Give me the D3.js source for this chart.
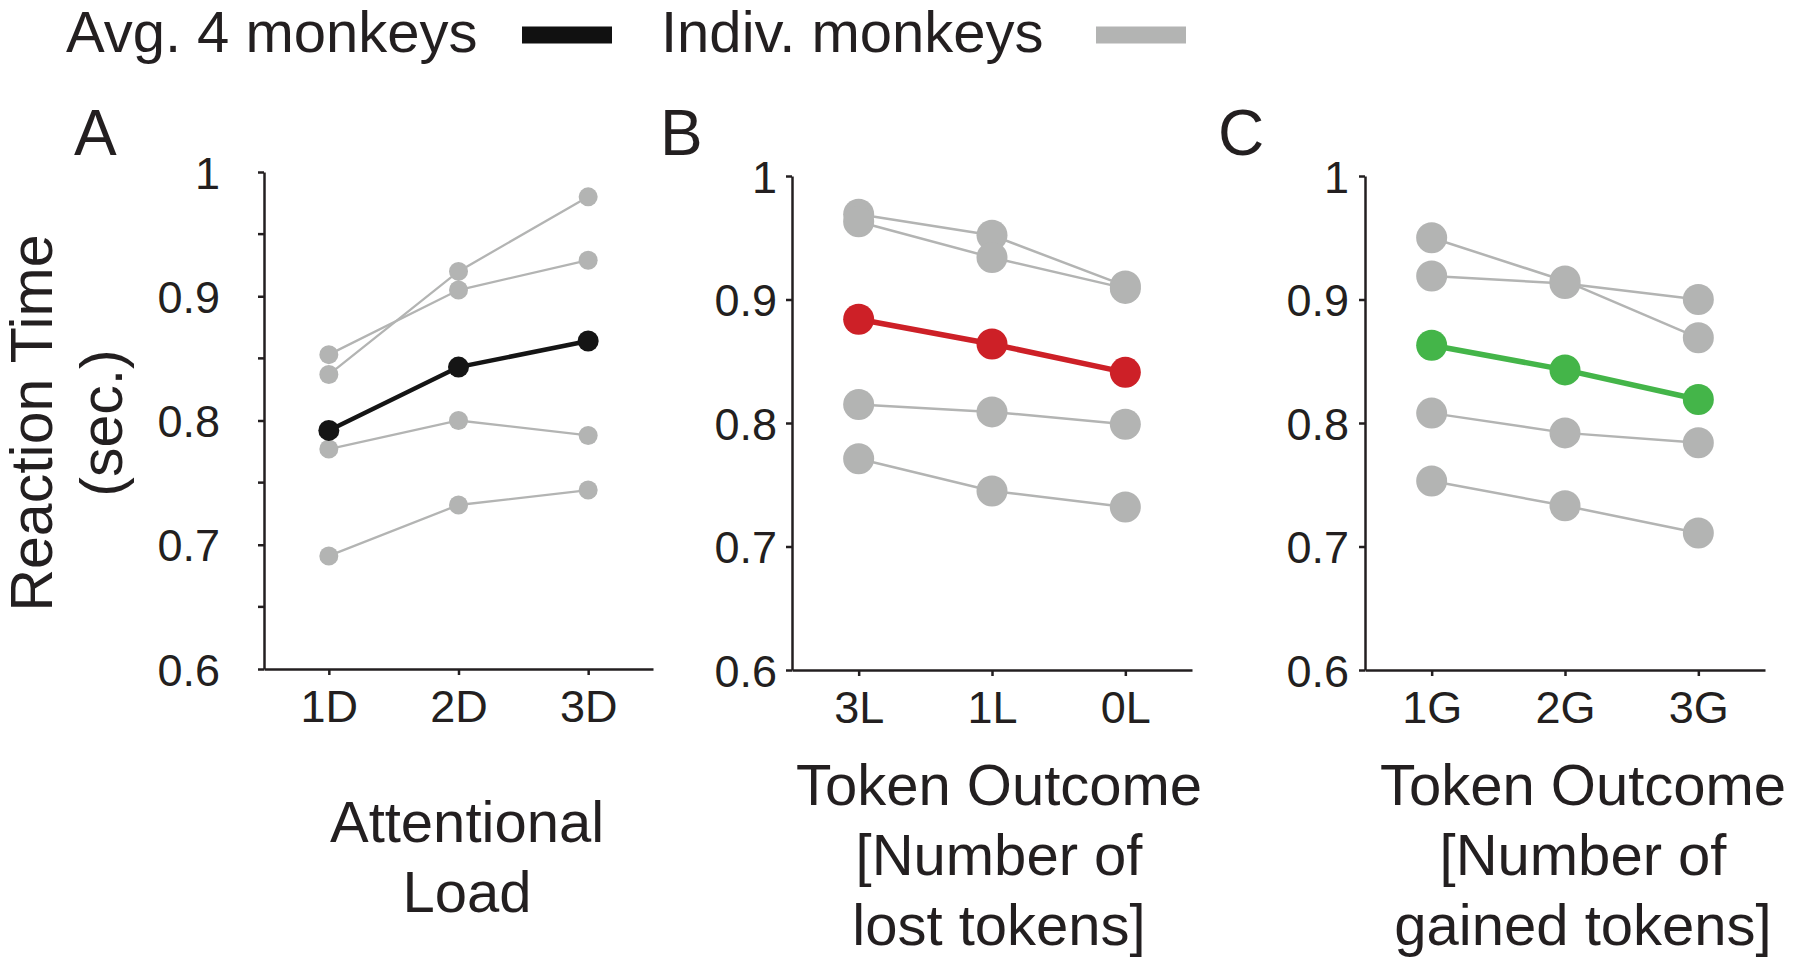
<!DOCTYPE html>
<html>
<head>
<meta charset="utf-8">
<script src="https://cdn.jsdelivr.net/npm/d3@7"></script>
<style>
  body { margin: 0; background: #fff; }
  svg { display: block; font-family: "Liberation Sans", Arial, sans-serif; }
  .axis path, .axis line { stroke: #231f20; stroke-width: 2.5; }
  .axis text { fill: #231f20; font-size: 45px; }
</style>
</head>
<body>
<script>
const width = 1800;
const height = 968;

// Reaction time values
const loadCategories = ["1D", "2D", "3D"];
const loadAvg = [0.792, 0.843, 0.864];
const loadIndiv = [
    [0.837, 0.920, 0.980],
    [0.853, 0.905, 0.929],
    [0.777, 0.800, 0.788],
    [0.691, 0.732, 0.744]
];

const lossCategories = ["3L", "1L", "0L"];
const lossAvg = [0.884, 0.864, 0.841];
const lossIndiv = [
    [0.969, 0.952, 0.911],
    [0.963, 0.934, 0.909],
    [0.815, 0.809, 0.799],
    [0.771, 0.745, 0.732]
];

const gainCategories = ["1G", "2G", "3G"];
const gainAvg = [0.863, 0.843, 0.819];
const gainIndiv = [
    [0.950, 0.915, 0.869],
    [0.919, 0.913, 0.900],
    [0.808, 0.792, 0.784],
    [0.753, 0.733, 0.711]
];

const yTicks = [0.6, 0.7, 0.8, 0.9, 1];
const yMinorTicks = [0.65, 0.75, 0.85, 0.95];

const gray = "#b3b4b3";
const textColor = "#231f20";

const svg = d3.select("body")
    .append("svg")
    .attr("width", width)
    .attr("height", height);

// legend along the top
const legend = svg.append("g").attr("font-size", 58).attr("fill", textColor);
legend.append("text").attr("x", 66).attr("y", 52).text("Avg. 4 monkeys");
legend.append("line")
    .attr("x1", 522).attr("x2", 612).attr("y1", 35).attr("y2", 35)
    .attr("stroke", "#111").attr("stroke-width", 17);
legend.append("text").attr("x", 661).attr("y", 52).text("Indiv. monkeys");
legend.append("line")
    .attr("x1", 1096).attr("x2", 1186).attr("y1", 35).attr("y2", 35)
    .attr("stroke", gray).attr("stroke-width", 17);

const panels = [
    {
        letter: "A", letterX: 74, cats: loadCategories, avg: loadAvg, indiv: loadIndiv,
        x0: 264, x1: 653, top: 172, bottom: 669, labelPad: 38, minor: true,
        color: "#151515", avgR: 10.5, grayR: 9.5, avgW: 4.5, grayW: 2.3,
        title: ["Attentional", "Load"], titleX: 467, titleY: 842
    },
    {
        letter: "B", letterX: 660, cats: lossCategories, avg: lossAvg, indiv: lossIndiv,
        x0: 792, x1: 1192, top: 176, bottom: 670, labelPad: 9, minor: false,
        color: "#cd2027", avgR: 15.5, grayR: 15.5, avgW: 5.5, grayW: 2.5,
        title: ["Token Outcome", "[Number of", "lost tokens]"], titleX: 999, titleY: 805
    },
    {
        letter: "C", letterX: 1218, cats: gainCategories, avg: gainAvg, indiv: gainIndiv,
        x0: 1365, x1: 1765, top: 176, bottom: 670, labelPad: 10, minor: false,
        color: "#44b549", avgR: 15.5, grayR: 15.5, avgW: 5.5, grayW: 2.5,
        title: ["Token Outcome", "[Number of", "gained tokens]"], titleX: 1583, titleY: 805
    }
];

panels.forEach(p => {
    const x = d3.scalePoint().domain(p.cats).range([p.x0, p.x1]).padding(0.5);
    const y = d3.scaleLinear().domain([0.6, 1]).range([p.bottom, p.top]);

    // panel letter
    svg.append("text")
        .attr("x", p.letterX).attr("y", 155)
        .attr("font-size", 64).attr("fill", textColor)
        .text(p.letter);

    // axes
    const yAxis = d3.axisLeft(y)
        .tickValues(yTicks)
        .tickFormat(d => d === 1 ? "1" : d3.format(".1f")(d))
        .tickSize(6).tickSizeOuter(0).tickPadding(p.labelPad);
    const gy = svg.append("g").attr("class", "axis")
        .attr("transform", `translate(${p.x0},0)`)
        .call(yAxis);
    gy.selectAll("text").attr("dy", "0.36em");

    if (p.minor) {
        gy.selectAll(".minor")
            .data(yMinorTicks)
            .enter().append("line")
            .attr("x1", -6).attr("x2", 0)
            .attr("y1", d => y(d)).attr("y2", d => y(d));
    }

    const xAxis = d3.axisBottom(x).tickSize(6).tickSizeOuter(0).tickPadding(15);
    svg.append("g").attr("class", "axis")
        .attr("transform", `translate(0,${p.bottom})`)
        .call(xAxis);

    const line = d3.line()
        .x((d, i) => x(p.cats[i]))
        .y(d => y(d));

    // individual monkeys
    const g = svg.append("g");
    g.selectAll(".indiv-line")
        .data(p.indiv)
        .enter().append("path")
        .attr("d", line)
        .attr("fill", "none")
        .attr("stroke", gray)
        .attr("stroke-width", p.grayW);

    p.indiv.forEach(series => {
        g.selectAll(null)
            .data(series)
            .enter().append("circle")
            .attr("cx", (d, i) => x(p.cats[i]))
            .attr("cy", d => y(d))
            .attr("r", p.grayR)
            .attr("fill", gray);
    });

    // average
    g.append("path")
        .datum(p.avg)
        .attr("d", line)
        .attr("fill", "none")
        .attr("stroke", p.color)
        .attr("stroke-width", p.avgW);
    g.selectAll(null)
        .data(p.avg)
        .enter().append("circle")
        .attr("cx", (d, i) => x(p.cats[i]))
        .attr("cy", d => y(d))
        .attr("r", p.avgR)
        .attr("fill", p.color);

    // x axis title
    const t = svg.append("text")
        .attr("text-anchor", "middle")
        .attr("font-size", 58)
        .attr("fill", textColor);
    p.title.forEach((s, i) => {
        t.append("tspan")
            .attr("x", p.titleX)
            .attr("y", p.titleY + i * 70)
            .text(s);
    });
});

// y axis title
const yTitle = svg.append("text")
    .attr("text-anchor", "middle")
    .attr("font-size", 59)
    .attr("fill", textColor)
    .attr("transform", "translate(0,423) rotate(-90)");
yTitle.append("tspan").attr("x", 0).attr("y", 52).text("Reaction Time");
yTitle.append("tspan").attr("x", 0).attr("y", 122).text("(sec.)");
</script>
</body>
</html>
